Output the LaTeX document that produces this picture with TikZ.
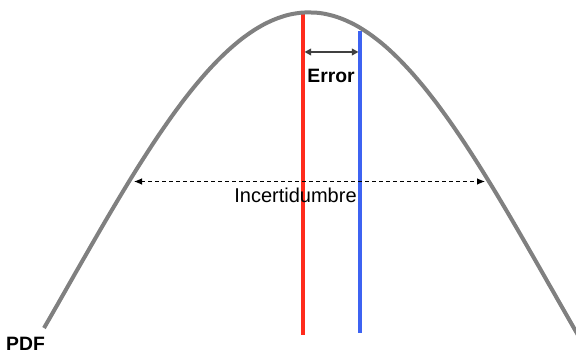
\documentclass[tikz,border=0pt]{standalone}
\usepackage{fontspec}
\setmainfont{Liberation Sans}
\usetikzlibrary{arrows.meta}
\definecolor{grisCurva}{HTML}{808080}
\definecolor{rojoMedia}{HTML}{FF2B1C}
\definecolor{azulValor}{HTML}{3D63F2}
\definecolor{grisFlecha}{HTML}{404040}
\tikzset{
  curvaPDF/.style={draw=grisCurva, line width=3pt},
  lineaMedia/.style={draw=rojoMedia, line width=2.5pt},
  lineaValor/.style={draw=azulValor, line width=2.5pt},
  flechaError/.style={{Triangle[length=5pt,width=5pt]}-{Triangle[length=5pt,width=5pt]},
    line width=1.5pt, grisFlecha},
  flechaIncert/.style={{Latex[length=6pt,width=5pt]}-{Latex[length=6pt,width=5pt]},
    dash pattern=on 3pt off 2.25pt, line width=0.8pt, black},
  etiqueta/.style={font=\fontsize{15}{17}\selectfont, inner sep=0pt},
  etiquetaNegrita/.style={etiqueta, font=\fontsize{14.5}{16}\selectfont\bfseries},
}
\begin{document}
\begin{tikzpicture}[x=0.75pt, y=-0.75pt]
  \useasboundingbox (0,0) rectangle (576,356);
  % valor medio y valor medido
  \coordinate (mediaArriba) at (303,12);
  \coordinate (mediaAbajo) at (303,335);
  \coordinate (valorArriba) at (360,31);
  \coordinate (valorAbajo) at (360,333);
  \draw[lineaMedia] (mediaArriba) -- (mediaAbajo);
  \draw[lineaValor] (valorArriba) -- (valorAbajo);
  % curva de densidad
  \draw[curvaPDF] plot[domain=-1.095:1.12, samples=120, smooth]
    ({309+242*\x}, {12.5+700*(1-exp(-\x*\x/2))});
  % error
  \coordinate (errorIzq) at (304.5,52);
  \coordinate (errorDer) at (358.5,52);
  \draw[flechaError] (errorIzq) -- (errorDer);
  \node[etiquetaNegrita] (error) at (331,76) {Error};
  % incertidumbre
  \coordinate (incIzq) at (134,181.5);
  \coordinate (incDer) at (485,181.5);
  \draw[flechaIncert] (incIzq) -- (incDer);
  \node[etiqueta] (incertidumbre) at (295.5,195) {Incertidumbre};
  \node[etiquetaNegrita] (pdf) at (25.5,344) {PDF};
\end{tikzpicture}
\end{document}
